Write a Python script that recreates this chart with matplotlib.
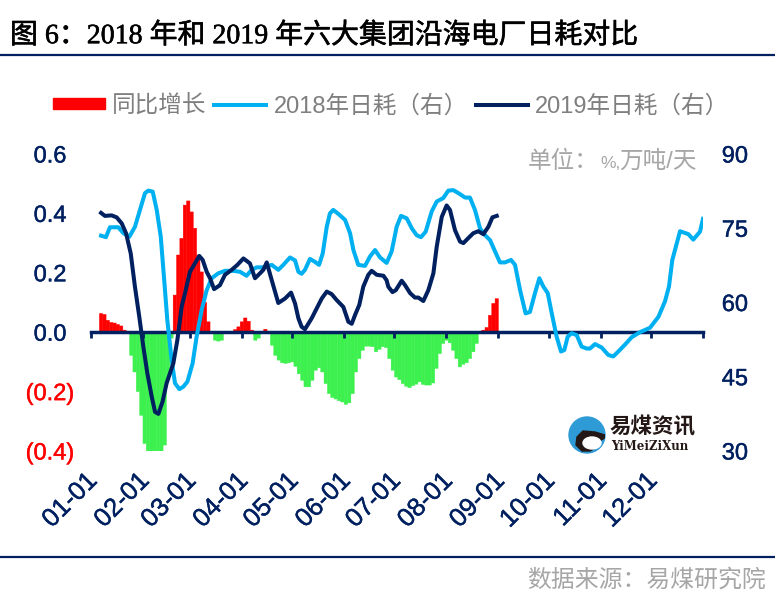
import matplotlib
matplotlib.use('Agg')
import matplotlib.pyplot as plt
import matplotlib.patheffects as pe
from matplotlib.lines import Line2D
from matplotlib.patches import Circle, Ellipse, Patch, Polygon
from matplotlib.transforms import ScaledTranslation

W, H = 775, 611
NAVY = '#002060'
GREY = '#A6A6A6'
CJK = ['Liberation Sans', 'Noto Sans CJK SC']
SERIF_CJK = ['Liberation Serif', 'Noto Sans CJK SC']

days_2018 = [6.0, 8.9, 11.3, 16.3, 19.3, 22.9, 26.2, 29.2, 32.2, 34.2, 36.8, 39.2, 41.6, 43.5, 45.5, 48.1, 50.1,
             52.7, 55.1, 57.5, 60.6, 63.0, 66.0, 69.0, 72.0, 75.9, 79.9, 84.9, 88.9, 92.8, 95.8, 98.8, 102.8,
             107.8, 111.7, 114.7, 118.7, 121.7, 123.7, 125.6, 127.6, 130.6, 133.6, 136.0, 138.2, 140.6, 142.5,
             144.5, 147.5, 151.5, 154.5, 156.5, 159.4, 163.4, 166.4, 169.4, 172.4, 176.3, 179.3, 182.3, 184.9,
             188.3, 191.3, 194.2, 196.8, 199.6, 203.2, 206.2, 210.1, 213.1, 216.1, 219.1, 223.1, 226.0, 229.0,
             232.0, 235.0, 238.0, 241.0, 243.9, 246.9, 250.5, 252.9, 255.9, 259.2, 261.8, 264.8, 267.4, 269.8,
             272.4, 274.8, 277.7, 280.3, 282.3, 284.3, 286.7, 289.7, 292.6, 295.6, 297.6, 300.6, 304.6, 308.5,
             311.5, 314.5, 318.5, 322.5, 327.4, 333.4, 338.4, 342.3, 344.7, 346.7, 351.3, 356.3, 359.2, 363.2,
             365.0]
vals_2018 = [73.5, 73.2, 75.2, 75.2, 74.0, 73.3, 75.3, 78.7, 82.1, 82.6, 82.4, 78.7, 73.3, 65.2, 56.5, 48.4, 43.7,
             42.5, 43.0, 44.0, 47.7, 53.1, 58.5, 62.5, 64.9, 65.9, 66.4, 66.4, 66.2, 65.4, 66.6, 67.1, 67.1,
             67.6, 66.6, 67.6, 69.1, 68.5, 66.2, 65.8, 66.6, 68.8, 68.2, 67.6, 69.9, 75.3, 78.0,
             78.7, 77.9, 76.7, 74.0, 70.6, 67.6, 67.4, 69.3, 70.6, 69.1, 68.0, 70.3, 75.3, 77.5,
             77.0, 75.0, 73.6, 73.2, 74.3, 78.4, 80.4, 81.1, 82.6, 82.7, 82.1, 81.2, 81.2, 78.7,
             75.0, 73.6, 72.6, 70.3, 68.1, 68.1, 68.6, 67.6, 62.5, 57.8, 58.1, 61.9, 64.9, 63.2,
             61.9, 57.8, 53.1, 50.1, 50.4, 53.1, 53.8, 53.4, 51.1, 50.7, 50.7, 51.6, 50.9, 49.4,
             49.1, 50.1, 51.5, 53.0, 54.0, 54.9, 57.1, 60.2, 63.2, 68.6, 74.4, 73.8, 72.7, 74.3,
             76.9]

days_2019 = [6.0, 8.3, 12.3, 15.3, 18.3, 20.9, 23.7, 26.2, 28.8, 31.2, 33.6, 36.2, 38.2, 40.2, 42.7, 45.1, 49.1,
             51.5, 54.1, 56.1, 59.0, 62.0, 64.6, 66.6, 69.0, 71.0, 73.4, 76.9, 79.9, 83.9, 87.3, 90.9, 94.8,
             97.8, 100.8, 102.8, 104.8, 107.8, 111.7, 115.7, 119.3, 121.7, 123.7, 125.6, 127.6, 131.6, 134.6,
             137.6, 140.6, 143.5, 146.5, 150.5, 153.5, 155.5, 157.5, 160.0, 162.4, 165.4, 167.4, 170.4, 174.4,
             176.3, 177.3, 179.8, 181.8, 185.3, 187.3, 190.3, 193.2, 195.2, 198.2, 201.2, 204.2, 206.2, 209.2,
             212.1, 214.1, 217.1, 220.1, 222.1, 225.0, 228.0, 231.0, 234.0, 237.0, 239.4, 242.0]
vals_2019 = [78.1, 77.5, 77.6, 77.2, 76.0, 74.0, 69.9, 63.2, 57.1, 51.1, 45.7, 41.0, 37.9, 37.5, 40.0, 43.7, 47.7,
             52.4, 59.2, 61.9, 66.2, 67.9, 69.4, 68.6, 66.2, 64.9, 62.7, 63.5, 65.6, 66.6, 67.6, 68.9, 67.9,
             64.9, 65.9, 66.6, 68.1, 64.5, 59.9, 60.8, 62.0, 59.8, 56.8, 55.1, 54.6, 56.8, 58.8,
             60.8, 62.2, 61.7, 60.5, 59.1, 56.1, 55.7, 57.5, 59.5, 63.2, 65.6, 66.4, 65.6, 65.4,
             64.5, 63.2, 62.1, 62.5, 64.4, 63.5, 61.9, 61.0, 61.0, 60.3, 62.5, 65.9, 71.3, 77.3,
             79.6, 78.7, 74.6, 72.3, 72.0, 73.0, 74.0, 74.4, 73.8, 75.3, 77.2, 77.5]

# year on year change, one reading every 2 days from day 6 to day 242
yoy_days = list(range(6, 244, 2))
yoy_vals = [0.063, 0.06, 0.04, 0.033, 0.031, 0.026, 0.021, 0.007, -0.005, -0.078, -0.134, -0.20, -0.28, -0.375,
            -0.40, -0.40, -0.40, -0.40, -0.40, -0.38, -0.15, -0.02, 0.125, 0.26, 0.316, 0.428, 0.442, 0.405, 0.35,
            0.26, 0.203, 0.10, 0.035, 0.0, -0.027, -0.03, -0.027, -0.005, 0.0, 0.0, 0.009, 0.018, 0.035, 0.048,
            0.037, 0.007, -0.027, -0.02, 0.0, 0.01, -0.004, -0.044, -0.078, -0.094, -0.103, -0.105, -0.103,
            -0.10, -0.115, -0.14, -0.162, -0.184, -0.184, -0.162, -0.128, -0.12, -0.134, -0.173, -0.207, -0.22,
            -0.225, -0.231, -0.235, -0.243, -0.238, -0.207, -0.134, -0.089, -0.061, -0.047, -0.047, -0.049,
            -0.066, -0.058, -0.049, -0.052, -0.089, -0.128, -0.151, -0.16, -0.173, -0.182, -0.187, -0.18, -0.175,
            -0.167, -0.176, -0.178, -0.178, -0.171, -0.122, -0.072, -0.038, -0.027, -0.036, -0.061, -0.089,
            -0.117, -0.108, -0.103, -0.089, -0.066, -0.038, -0.002, 0.007, 0.016, 0.057, 0.097, 0.113]

month_days = [0, 31, 59, 90, 120, 151, 181, 212, 243, 273, 304, 334, 365]
month_labels = ['01-01', '02-01', '03-01', '04-01', '05-01', '06-01', '07-01', '08-01', '09-01', '10-01', '11-01',
                '12-01', '']
left_ticks = [-0.4, -0.2, 0.0, 0.2, 0.4, 0.6]
left_labels = ['(0.4)', '(0.2)', '0.0', '0.2', '0.4', '0.6']
right_ticks = [30, 45, 60, 75, 90]


def fx(px):
    return px / W


def fy(py):
    return 1 - py / H


def heavy(labels):
    # tick text in the reference is a touch heavier than the regular face
    for lab in labels:
        lab.set_path_effects([pe.withStroke(linewidth=0.3, foreground=lab.get_color())])


fig = plt.figure(figsize=(W / 100, H / 100), dpi=100)
ax = fig.add_axes([fx(91), fy(451), fx(703 - 91), (451 - 154) / H])
ax2 = ax.twinx()

bar_colors = ['#FF0000' if v > 0 else '#3CF04E' for v in yoy_vals]
ax.bar(yoy_days, yoy_vals, width=2.0, color=bar_colors, edgecolor=bar_colors, linewidth=0.3, snap=False)

ax2.plot(days_2018, vals_2018, color='#00B0F0', lw=2.9, solid_joinstyle='round')
ax2.plot(days_2019, vals_2019, color=NAVY, lw=2.9, solid_joinstyle='round')

ax.set_xlim(0, 365)
ax.set_ylim(-0.4, 0.6)
ax2.set_ylim(30, 90)

for s in ['left', 'right', 'top']:
    ax.spines[s].set_visible(False)
    ax2.spines[s].set_visible(False)
ax2.spines['bottom'].set_visible(False)
ax.spines['bottom'].set_position(('data', 0))
ax.spines['bottom'].set_color(NAVY)
ax.spines['bottom'].set_linewidth(2.5)

ax.set_yticks(left_ticks)
ax.set_yticklabels(left_labels, fontsize=17, family='Liberation Sans', color=NAVY, ha='center')
ax.tick_params(axis='y', length=0, pad=29.5)
for lab, v in zip(ax.get_yticklabels(), left_ticks):
    if v < 0:
        lab.set_color('#FF0000')
heavy(ax.get_yticklabels())

ax2.set_yticks(right_ticks)
ax2.set_yticklabels([str(v) for v in right_ticks], fontsize=17, family='Liberation Sans', color=NAVY)
ax2.tick_params(axis='y', length=0, pad=13.5)
heavy(ax2.get_yticklabels())

ax.set_xticks(month_days)
ax.set_xticklabels(month_labels, fontsize=18.5, family='Liberation Sans', color=NAVY, rotation=45, ha='right',
                   va='top', rotation_mode='anchor')
ax.tick_params(axis='x', length=4, width=2.0, color=NAVY, pad=94)
shift = ScaledTranslation(-6 / 100, 0, fig.dpi_scale_trans)
for lab in ax.get_xticklabels():
    lab.set_transform(lab.get_transform() + shift)
heavy(ax.get_xticklabels())

# header and footer
fig.text(fx(10), fy(36), '图 6：2018 年和 2019 年六大集团沿海电厂日耗对比', fontsize=20.1, family=SERIF_CJK,
         va='center', color='black', path_effects=[pe.withStroke(linewidth=0.4, foreground='black')])
fig.add_artist(Line2D([0, 1], [fy(55), fy(55)], color=NAVY, lw=1.6))
fig.add_artist(Line2D([0, 1], [fy(557), fy(557)], color=NAVY, lw=1.6))
fig.text(fx(766), fy(580), '数据来源：易煤研究院', fontsize=17.2, family=CJK, color=GREY, ha='right', va='center')
fig.text(fx(528), fy(162), '单位：', fontsize=17, family=CJK, color=GREY, va='center')
fig.text(fx(600), fy(163), '%,', fontsize=12.5, family=CJK, color=GREY, va='center')
fig.text(fx(697), fy(162), '万吨/天', fontsize=17, family=CJK, color=GREY, ha='right', va='center')

handles = [Patch(color='#FF0000', label='同比增长'),
           Line2D([], [], color='#00B0F0', lw=2.9, label='2018年日耗（右）'),
           Line2D([], [], color=NAVY, lw=2.9, label='2019年日耗（右）')]
leg = fig.legend(handles=handles, ncol=3, frameon=False, loc='center', bbox_to_anchor=(fx(391), fy(106)),
                 prop={'family': CJK, 'size': 17}, handlelength=2.2, handleheight=0.36, handletextpad=0.3,
                 columnspacing=0.35, borderpad=0, borderaxespad=0)
for t in leg.get_texts():
    t.set_color('#7F7F7F')

# logo
logo = fig.add_axes([fx(566), fy(456), fx(42), 42 / H])
logo.set_xlim(-21, 21)
logo.set_ylim(-21, 21)
logo.axis('off')
disc = Circle((0, 0), 18, color='#2E9BD6')
logo.add_patch(disc)
swoosh = Polygon([(18, 0), (8, 3), (-4, 4), (-10, -2), (-11, -10), (-5, -16), (3, -16), (8, -13), (12, -6), (18, -3)],
                 closed=True, color='#231815')
logo.add_patch(swoosh)
swoosh.set_clip_path(disc)
hollow = Ellipse((5, -8), 18, 12, color='white')
logo.add_patch(hollow)
hollow.set_clip_path(disc)
fig.text(fx(610), fy(427), '易煤资讯', fontsize=15.5, family='Noto Sans CJK SC', fontweight='bold', color='#231815',
         va='center')
fig.text(fx(611), fy(446), 'YiMeiZiXun', fontsize=8.5, family='DejaVu Serif', color='#231815', va='center',
         fontweight='bold')

fig.savefig('out.png', dpi=100)
